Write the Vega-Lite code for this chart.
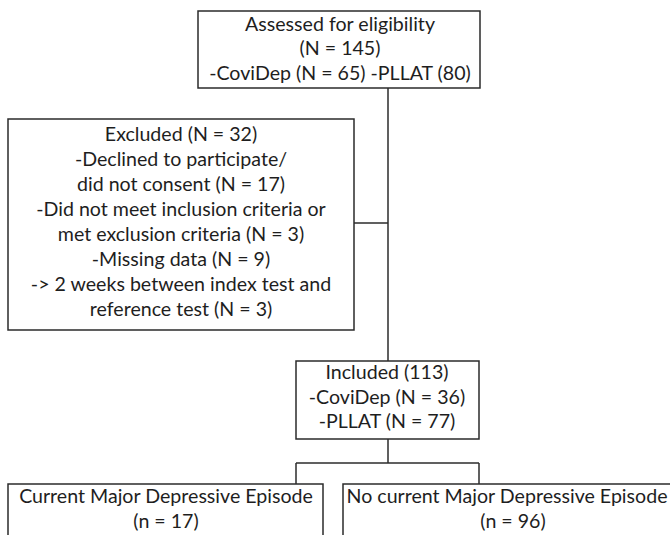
{
  "$schema": "https://vega.github.io/schema/vega-lite/v6.json",
  "width": 670,
  "height": 535,
  "padding": 0,
  "autosize": {"type": "none"},
  "config": {"view": {"stroke": null}},
  "datasets": {
    "boxes": [
      {"id": "assessed", "x1": 198, "x2": 480, "y1": 11, "y2": 88},
      {"id": "excluded", "x1": 8, "x2": 354, "y1": 119, "y2": 330},
      {"id": "included", "x1": 296, "x2": 479, "y1": 361, "y2": 439},
      {"id": "mde", "x1": 8, "x2": 323, "y1": 484, "y2": 560},
      {"id": "nomde", "x1": 343, "x2": 681, "y1": 484, "y2": 560}
    ],
    "links": [
      {"x1": 388, "x2": 388, "y1": 88, "y2": 361},
      {"x1": 354, "x2": 388, "y1": 223, "y2": 223},
      {"x1": 388, "x2": 388, "y1": 439, "y2": 463},
      {"x1": 296, "x2": 479, "y1": 463, "y2": 463},
      {"x1": 296, "x2": 296, "y1": 463, "y2": 484},
      {"x1": 479, "x2": 479, "y1": 463, "y2": 484}
    ],
    "labels": [
      {"x": 340, "y": 25, "t": "Assessed for eligibility"},
      {"x": 340, "y": 49, "t": "(N = 145)"},
      {"x": 340, "y": 74, "t": "-CoviDep (N = 65) -PLLAT (80)"},
      {"x": 181, "y": 135, "t": "Excluded (N = 32)"},
      {"x": 181, "y": 160, "t": "-Declined to participate/"},
      {"x": 181, "y": 185, "t": "did not consent (N = 17)"},
      {"x": 181, "y": 210, "t": "-Did not meet inclusion criteria or"},
      {"x": 181, "y": 235, "t": "met exclusion criteria (N = 3)"},
      {"x": 181, "y": 260, "t": "-Missing data (N = 9)"},
      {"x": 181, "y": 285, "t": "-> 2 weeks between index test and"},
      {"x": 181, "y": 310, "t": "reference test (N = 3)"},
      {"x": 387, "y": 373, "t": "Included (113)"},
      {"x": 387, "y": 398, "t": "-CoviDep (N = 36)"},
      {"x": 387, "y": 422, "t": "-PLLAT (N = 77)"},
      {"x": 166, "y": 497, "t": "Current Major Depressive Episode"},
      {"x": 166, "y": 522, "t": "(n = 17)"},
      {"x": 507, "y": 497, "t": "No current Major Depressive Episode"},
      {"x": 513, "y": 522, "t": "(n = 96)"}
    ]
  },
  "layer": [
    {
      "data": {"name": "boxes"},
      "mark": {"type": "rect", "fill": "white", "stroke": "#2b2b2b", "strokeWidth": 1.5},
      "encoding": {
        "x": {"field": "x1", "type": "quantitative", "scale": {"domain": [0, 670], "nice": false, "zero": false}, "axis": null},
        "x2": {"field": "x2"},
        "y": {"field": "y1", "type": "quantitative", "scale": {"domain": [0, 535], "nice": false, "zero": false, "reverse": true}, "axis": null},
        "y2": {"field": "y2"}
      }
    },
    {
      "data": {"name": "links"},
      "mark": {"type": "rule", "stroke": "#2b2b2b", "strokeWidth": 1.5},
      "encoding": {
        "x": {"field": "x1", "type": "quantitative", "scale": {"domain": [0, 670], "nice": false, "zero": false}, "axis": null},
        "x2": {"field": "x2"},
        "y": {"field": "y1", "type": "quantitative", "scale": {"domain": [0, 535], "nice": false, "zero": false, "reverse": true}, "axis": null},
        "y2": {"field": "y2"}
      }
    },
    {
      "data": {"name": "labels"},
      "mark": {"type": "text", "font": "Lato", "fontSize": 19.6, "align": "center", "baseline": "middle", "color": "#1e1e1e"},
      "encoding": {
        "x": {"field": "x", "type": "quantitative", "scale": {"domain": [0, 670], "nice": false, "zero": false}, "axis": null},
        "y": {"field": "y", "type": "quantitative", "scale": {"domain": [0, 535], "nice": false, "zero": false, "reverse": true}, "axis": null},
        "text": {"field": "t"}
      }
    }
  ]
}
